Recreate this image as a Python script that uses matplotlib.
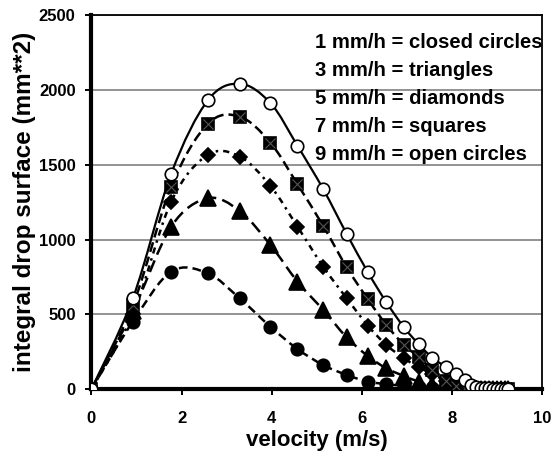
import numpy as np
import matplotlib.pyplot as plt
from matplotlib.path import Path
from matplotlib.patches import PathPatch

# velocity classes (m/s), shared by every rain rate
velocity = [0, 0.92, 1.77, 2.58, 3.29, 3.97, 4.57, 5.14, 5.66, 6.13, 6.54, 6.93, 7.26,
            7.56, 7.86, 8.08, 8.28, 8.42, 8.53, 8.63, 8.73, 8.82, 8.91, 9.0, 9.08, 9.16, 9.23]

# integral drop surface (mm**2)
rate_1 = [0, 452, 786, 775, 607, 418, 269, 162, 96, 51, 35, 22, 14,
          9, 6, 4, 2, 1, 1, 0, 0, 0, 0, 0, 0, 0, 0]
rate_3 = [0, 520, 1086, 1276, 1191, 964, 719, 530, 347, 222, 140, 89, 51,
          29, 16, 9, 5, 3, 2, 1, 1, 0, 0, 0, 0, 0, 0]
rate_5 = [0, 500, 1253, 1565, 1554, 1358, 1086, 819, 608, 425, 296, 207, 147,
          102, 57, 35, 20, 12, 7, 4, 2, 1, 1, 0, 0, 0, 0]
rate_7 = [0, 560, 1353, 1772, 1821, 1647, 1369, 1091, 815, 601, 430, 296, 215,
          129, 58, 25, 12, 8, 5, 3, 2, 1, 1, 0, 0, 0, 0]
rate_9 = [0, 607, 1439, 1929, 2041, 1912, 1626, 1337, 1038, 782, 581, 414, 300,
          210, 150, 105, 65, 30, 18, 12, 8, 6, 4, 3, 2, 1, 1]

legend_lines = ["1 mm/h = closed circles", "3 mm/h = triangles", "5 mm/h = diamonds",
                "7 mm/h = squares", "9 mm/h = open circles"]
legend_y = [2280, 2093, 1906, 1719, 1532]

x_ticks = [0, 2, 4, 6, 8, 10]
y_ticks = [0, 500, 1000, 1500, 2000, 2500]

plt.rcParams['font.family'] = ['Liberation Sans', 'DejaVu Sans']
plt.rcParams['font.weight'] = 'bold'


def smoothPath(xs, ys):
    # excel-like smoothed line: catmull-rom segments as bezier curves
    pts = np.column_stack([xs, ys]).astype(float)
    n = len(pts)
    verts = [pts[0]]
    codes = [Path.MOVETO]
    for i in range(n - 1):
        p0 = pts[max(i - 1, 0)]
        p1 = pts[i]
        p2 = pts[i + 1]
        p3 = pts[min(i + 2, n - 1)]
        verts += [p1 + (p2 - p0) / 6, p2 - (p3 - p1) / 6, p2]
        codes += [Path.CURVE4] * 3
    return Path(verts, codes)


def drawSeries(ax, ys, dashes, marker, ms, face, lw=1.8):
    patch = PathPatch(smoothPath(velocity, ys), fill=False, edgecolor='black',
                      linewidth=lw, linestyle=dashes, zorder=3)
    ax.add_patch(patch)
    ax.plot(velocity, ys, linestyle='none', marker=marker, markersize=ms,
            markerfacecolor=face, markeredgecolor='black', markeredgewidth=1.2, zorder=4)


fig = plt.figure(figsize=(5.56, 4.61), dpi=100)
ax = fig.add_axes([0.1642, 0.1555, 0.8115, 0.812])

drawSeries(ax, rate_1, (0, (3.5, 2)), 'o', 9, 'black')
drawSeries(ax, rate_3, (0, (5, 2.5)), '^', 11, 'black')
drawSeries(ax, rate_5, (0, (2.5, 2, 1, 2)), 'D', 7.5, 'black')
drawSeries(ax, rate_7, (0, (4, 2)), 's', 8.8, 'black')
# little x inside each square, like the original markers
ax.plot(velocity, rate_7, linestyle='none', marker='x', markersize=7,
        markeredgecolor='#555555', markeredgewidth=0.8, zorder=4)
drawSeries(ax, rate_9, '-', 'o', 9, 'white', lw=1.6)

for txt, yy in zip(legend_lines, legend_y):
    ax.text(4.95, yy, txt, fontsize=14.6, fontweight='bold', va='baseline', ha='left', zorder=5)

ax.set_xlim(0, 10)
ax.set_ylim(0, 2500)
ax.set_xticks(x_ticks)
ax.set_yticks(y_ticks)
ax.tick_params(axis='both', direction='out', length=4.3, width=1.4, labelsize=12)
ax.tick_params(axis='x', pad=11)
ax.tick_params(axis='y', pad=7)

ax.yaxis.grid(True, color='#808080', linewidth=1.2, zorder=0)
ax.set_axisbelow(True)

for side in ['left', 'bottom']:
    ax.spines[side].set_linewidth(3)
for side in ['right', 'top']:
    ax.spines[side].set_linewidth(1.3)

ax.set_xlabel('velocity (m/s)', fontsize=16, fontweight='bold', labelpad=3)
ax.set_ylabel('integral drop surface (mm**2)', fontsize=17.5, fontweight='bold', labelpad=2)

fig.savefig('out.png', dpi=100)
